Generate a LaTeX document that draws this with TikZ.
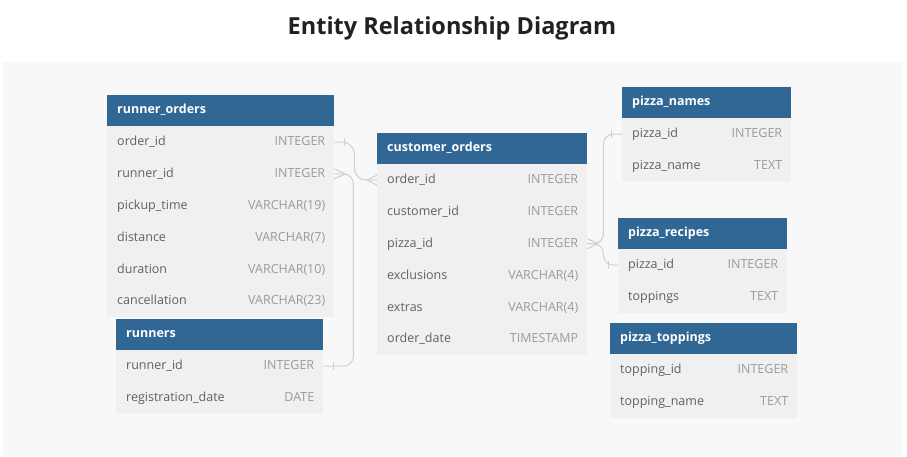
\documentclass[tikz,border=0pt]{standalone}
\usepackage{fontspec}
\setmainfont{Open Sans}
\usetikzlibrary{arrows.meta,positioning,calc}
\definecolor{erblue}{HTML}{316795}
\definecolor{canvas}{HTML}{F8F8F8}
\definecolor{rowfill}{HTML}{F0F0F0}
\definecolor{namegray}{HTML}{606060}
\definecolor{typegray}{HTML}{9A9A9A}
\definecolor{linkgray}{HTML}{CFCFCF}
\tikzset{
  every picture/.append style={x=1pt,y=-1pt},
  every node/.append style={inner sep=0pt},
}
\tikzset{
  tblhead/.style={anchor=north west, fill=erblue, minimum height=31pt},
  tbltitle/.style={anchor=west, xshift=10pt, text=white, text height=9pt, text depth=3pt,
                   font=\bfseries\fontsize{12.5}{14}\selectfont},
  tblrow/.style={anchor=north west, fill=rowfill, minimum height=31.8pt},
  colname/.style={anchor=west, xshift=10pt, yshift=-0.8pt, text=namegray, text height=9pt, text depth=3pt,
                  font=\fontsize{12.5}{15}\selectfont},
  coltype/.style={anchor=east, xshift=-9pt, yshift=-0.8pt, text=typegray, text height=9pt, text depth=3pt,
                  font=\fontsize{12.5}{15}\selectfont},
  link/.style={draw=linkgray, line width=1pt}
}
\begin{document}
\begin{tikzpicture}
\useasboundingbox (0,0) rectangle (907,456);
\fill[canvas] (3,62) rectangle (903,456);

% Title
\node[font=\bfseries\fontsize{23.5}{28}\selectfont, text=black!87] (title) at (452,28) {Entity Relationship Diagram};

% runner_orders
\node[tblhead, minimum width=227pt] (runnerorders) at (107,95) {};
\node[tbltitle] at (runnerorders.west) {runner\_orders};
\foreach \n/\t [count=\i] in {order\_id/INTEGER, runner\_id/INTEGER, pickup\_time/VARCHAR(19),
    distance/VARCHAR(7), duration/VARCHAR(10), cancellation/VARCHAR(23)} {
  \node[tblrow, minimum width=227pt] (ro\i) at (107,{126+31.8*(\i-1)}) {};
  \node[colname] at (ro\i.west) {\n};
  \node[coltype] at (ro\i.east) {\t};
}

% runners
\node[tblhead, minimum width=207pt] (runners) at (116,319) {};
\node[tbltitle] at (runners.west) {runners};
\foreach \n/\t [count=\i] in {runner\_id/INTEGER, registration\_date/DATE} {
  \node[tblrow, minimum width=207pt] (rn\i) at (116,{350+31.8*(\i-1)}) {};
  \node[colname] at (rn\i.west) {\n};
  \node[coltype] at (rn\i.east) {\t};
}

% customer_orders
\node[tblhead, minimum width=210pt] (customerorders) at (377,133) {};
\node[tbltitle] at (customerorders.west) {customer\_orders};
\foreach \n/\t [count=\i] in {order\_id/INTEGER, customer\_id/INTEGER, pizza\_id/INTEGER,
    exclusions/VARCHAR(4), extras/VARCHAR(4), order\_date/TIMESTAMP} {
  \node[tblrow, minimum width=210pt] (co\i) at (377,{164+31.8*(\i-1)}) {};
  \node[colname] at (co\i.west) {\n};
  \node[coltype] at (co\i.east) {\t};
}

% pizza_names
\node[tblhead, minimum width=169pt] (pizzanames) at (622,87) {};
\node[tbltitle] at (pizzanames.west) {pizza\_names};
\foreach \n/\t [count=\i] in {pizza\_id/INTEGER, pizza\_name/TEXT} {
  \node[tblrow, minimum width=169pt] (pn\i) at (622,{118+31.8*(\i-1)}) {};
  \node[colname] at (pn\i.west) {\n};
  \node[coltype] at (pn\i.east) {\t};
}

% pizza_recipes
\node[tblhead, minimum width=169pt] (pizzarecipes) at (618,218) {};
\node[tbltitle] at (pizzarecipes.west) {pizza\_recipes};
\foreach \n/\t [count=\i] in {pizza\_id/INTEGER, toppings/TEXT} {
  \node[tblrow, minimum width=169pt] (pr\i) at (618,{249+31.8*(\i-1)}) {};
  \node[colname] at (pr\i.west) {\n};
  \node[coltype] at (pr\i.east) {\t};
}

% pizza_toppings
\node[tblhead, minimum width=187pt] (pizzatoppings) at (610,323) {};
\node[tbltitle] at (pizzatoppings.west) {pizza\_toppings};
\foreach \n/\t [count=\i] in {topping\_id/INTEGER, topping\_name/TEXT} {
  \node[tblrow, minimum width=187pt] (pt\i) at (610,{354+31.8*(\i-1)}) {};
  \node[colname] at (pt\i.west) {\n};
  \node[coltype] at (pt\i.east) {\t};
}

% Relations
\draw[link, rounded corners=12pt] (ro1.east) -- ++(20,0) |- (co1.west);
\draw[link, rounded corners=10pt] (ro2.east) -- ++(19,0) |- (rn1.east);
\draw[link, rounded corners=10pt] (co3.east) -- ++(16,0) |- (pn1.west);
\draw[link, rounded corners=10pt] (co3.east) -- ++(16,0) |- (pr1.west);

% One ends
\draw[link] ([xshift=10pt,yshift=4pt]ro1.east) -- ++(0,8);
\draw[link] ([xshift=10pt,yshift=4pt]rn1.east) -- ++(0,8);
\draw[link] ([xshift=-11pt,yshift=4pt]pn1.west) -- ++(0,8);
\draw[link] ([xshift=-10pt,yshift=4pt]pr1.west) -- ++(0,8);

% Many ends
\foreach \d in {-5,5} {
  \draw[link] ([xshift=-10pt]co1.west) -- ([yshift=\d pt]co1.west);
  \draw[link] ([xshift=11pt]ro2.east) -- ([yshift=\d pt]ro2.east);
  \draw[link] ([xshift=11pt]co3.east) -- ([yshift=\d pt]co3.east);
}

\end{tikzpicture}
\end{document}
